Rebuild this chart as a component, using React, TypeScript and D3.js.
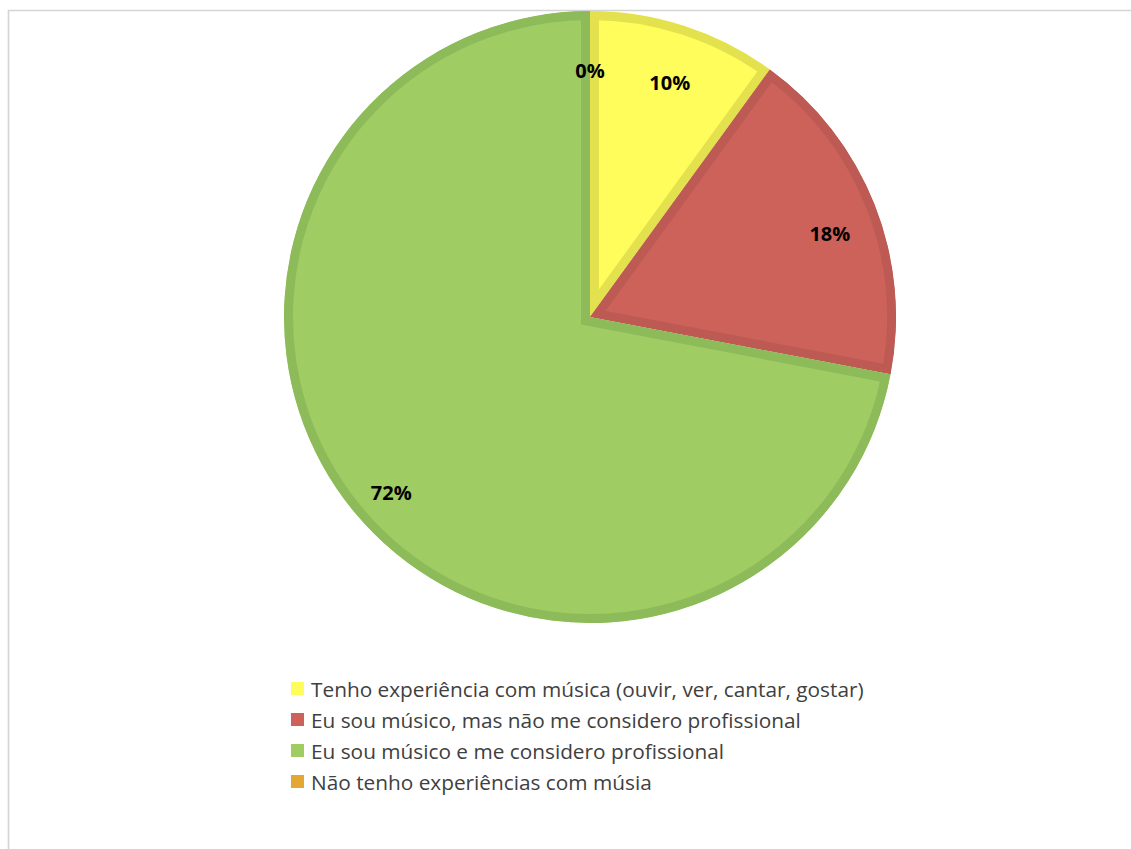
import React from "react";
import * as d3 from "d3";

const categories = [
  "Tenho experiência com música (ouvir, ver, cantar, gostar)",
  "Eu sou músico, mas não me considero profissional",
  "Eu sou músico e me considero profissional",
  "Não tenho experiências com músia",
];
const values = [10, 18, 72, 0];
const labels = ["10%", "18%", "72%", "0%"];
const fills = ["#FEFD5B", "#CC625A", "#9FCD64", "#E5A733"];
const borders = ["#E3E24E", "#BD5A54", "#8EBB59", "#CC9428"];

const W = 1131;
const H = 849;
const cx = 590;
const cy = 317;
const R = 306;

export default function App() {
  const pie = d3.pie<number>().sort(null).value((d) => d)(values);
  const arc = d3.arc<d3.PieArcDatum<number>>().innerRadius(0).outerRadius(R);
  const labelArc = d3.arc<d3.PieArcDatum<number>>().innerRadius(258).outerRadius(258);
  const legendY = d3.scaleBand<number>().domain(d3.range(categories.length)).range([673, 797]);

  return (
    <svg
      width={W}
      height={H}
      style={{ position: "absolute", left: 0, top: 0, background: "#fff" }}
    >
      <path d={`M8.5,${H} L8.5,10.5 L${W},10.5`} fill="none" stroke="#d4d4d4" strokeWidth={1.6} />
      <defs>
        {pie.map((p, i) => (
          <clipPath id={`clip${i}`} key={i}>
            <path d={arc(p) || ""} />
          </clipPath>
        ))}
      </defs>
      <g transform={`translate(${cx},${cy})`}>
        {pie.map((p, i) => (
          <path
            key={i}
            d={arc(p) || ""}
            fill={fills[i]}
            stroke={borders[i]}
            strokeWidth={18}
            strokeLinejoin="miter"
            clipPath={`url(#clip${i})`}
          />
        ))}
        {pie.map((p, i) => {
          const [x, y] = labelArc.centroid(p);
          return (
            <text
              key={i}
              x={x}
              y={y + 11}
              textAnchor="middle"
              dominantBaseline="central"
              fontFamily="'Open Sans', sans-serif"
              fontWeight="bold"
              fontSize={20}
              fill="#000"
            >
              {labels[i]}
            </text>
          );
        })}
      </g>
      <g>
        {categories.map((c, i) => {
          const y = (legendY(i) || 0) + legendY.bandwidth() / 2;
          return (
            <g key={i}>
              <rect x={291} y={y - 6.5} width={13} height={13} fill={fills[i]} />
              <text
                x={311}
                y={y}
                dominantBaseline="central"
                fontFamily="'Open Sans', sans-serif"
                fontSize={20.8}
                fill="#404040"
              >
                {c}
              </text>
            </g>
          );
        })}
      </g>
    </svg>
  );
}
